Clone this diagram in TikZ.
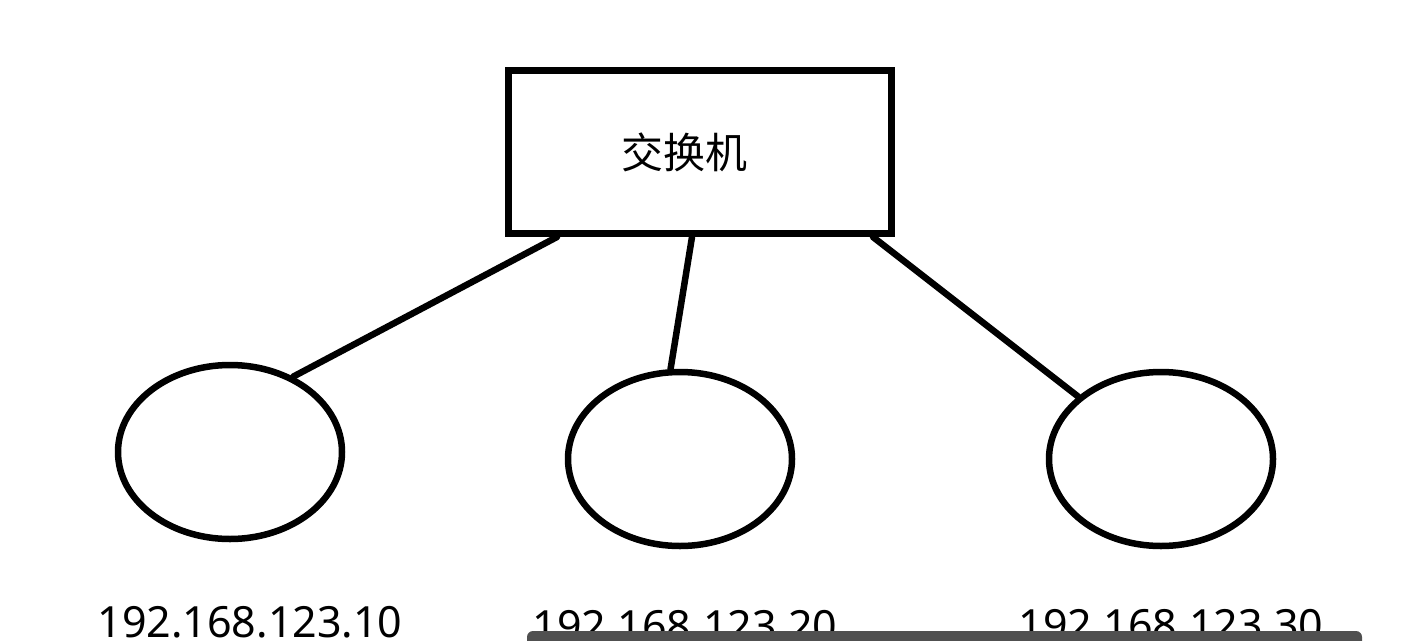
\documentclass[tikz,border=0pt]{standalone}
\usepackage{fontspec}
\setmainfont{Noto Sans}
\newfontfamily\cjk{Noto Sans CJK SC}
\usetikzlibrary{shapes.geometric,calc}
\definecolor{bargray}{HTML}{505050}
\begin{document}
\begin{tikzpicture}[x=1pt,y=-1pt,
  host/.style={draw,ellipse,line width=6.5pt,minimum width=224pt,minimum height=174pt,inner sep=0pt},
  switchbox/.style={draw,line width=7pt,minimum width=383pt,minimum height=163pt,inner sep=0pt},
  link/.style={line width=6.5pt,line cap=round},
  iplabel/.style={anchor=base,font=\fontsize{43}{43}\selectfont,inner sep=0pt}]
\useasboundingbox (0,0) rectangle (1404,640);
\clip (0,0) rectangle (1404,640);
\fill[white] (0,0) rectangle (1404,640);
\node[switchbox] (box) at (700,152) {};
\node[font=\cjk\fontsize{42}{42}\selectfont,inner sep=0pt] (boxlabel) at (684,152) {交换机};
\node[host] (h1) at (230,452) {};
\node[host] (h2) at (680,459) {};
\node[host] (h3) at (1161,459) {};
\draw[link] ($(box.south)+(-143,0)$) -- (h1.50);
\draw[link] ($(box.south)+(-8,0)$) -- (h2.96);
\draw[link] ($(box.south)+(173,0)$) -- (h3.143);
\node[iplabel] (ip1) at (250,637) {192.168.123.10};
\node[iplabel] (ip2) at (685,641) {192.168.123.20};
\node[iplabel] (ip3) at (1171,640) {192.168.123.30};
\fill[bargray,rounded corners=6pt] (527,631) rectangle (1362,652);
\end{tikzpicture}
\end{document}
